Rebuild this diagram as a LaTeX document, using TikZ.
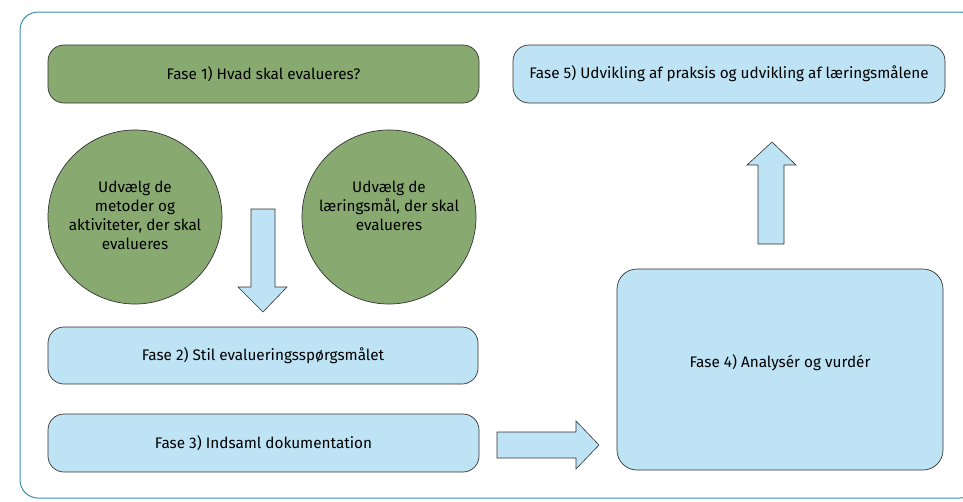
\documentclass[tikz,border=0pt]{standalone}
\usepackage{fontspec}
\setmainfont{Fira Sans}
\begin{document}
\begin{tikzpicture}[x=1pt,y=-1pt,
  font=\fontsize{15.3}{19}\selectfont,
  frame/.style={draw=black!80, line width=0.7pt},
  greenbox/.style={frame, fill=phgreen, rounded corners=16pt},
  bluebox/.style={frame, fill=phblue, rounded corners=16pt},
  blockarrow/.style={draw=black!80, line width=0.6pt, fill=phblue, line join=miter}]
\definecolor{phgreen}{HTML}{88A970}
\definecolor{phblue}{HTML}{BDE3F5}
\definecolor{phframe}{HTML}{3A8DB0}
\useasboundingbox (0,0) rectangle (963,501);
\draw[phframe, line width=1pt, rounded corners=18pt] (20,12) rectangle (978,498);
% Fase 1
\draw[greenbox] (48,45) rectangle (479,103);
\node (f1) at (263.5,74) {Fase 1) Hvad skal evalueres?};
% circles
\draw[frame, fill=phgreen] (135,217) circle (87);
\node[align=center] (c1) at (135,215) {Udvælg de\\metoder og\\aktiviteter, der skal\\evalueres};
\draw[frame, fill=phgreen] (389,217) circle (87);
\node[align=center] (c2) at (389,206) {Udvælg de\\læringsmål, der skal\\evalueres};
% down arrow
\draw[blockarrow] (251,209) -- (275,209) -- (275,287) -- (287,287) -- (263,312) -- (238,287) -- (251,287) -- cycle;
% Fase 2
\draw[bluebox] (48,327) rectangle (478,384);
\node (f2) at (263,355.5) {Fase 2) Stil evalueringsspørgsmålet};
% Fase 3
\draw[bluebox] (48,414) rectangle (479,472);
\node (f3) at (263.5,443) {Fase 3) Indsaml dokumentation};
% right arrow
\draw[blockarrow] (497,432) -- (576,432) -- (576,421) -- (599,445) -- (576,469) -- (576,458) -- (497,458) -- cycle;
% Fase 4
\draw[bluebox, rounded corners=20pt] (617,269) rectangle (943,470);
\node (f4) at (780,363) {Fase 4) Analysér og vurdér};
% up arrow
\draw[blockarrow] (758,244) -- (758,165) -- (747,165) -- (772,142) -- (796,165) -- (784,165) -- (784,244) -- cycle;
% Fase 5
\draw[bluebox] (513,45) rectangle (945,103);
\node (f5) at (729,74) {Fase 5) Udvikling af praksis og udvikling af læringsmålene};
\end{tikzpicture}
\end{document}
